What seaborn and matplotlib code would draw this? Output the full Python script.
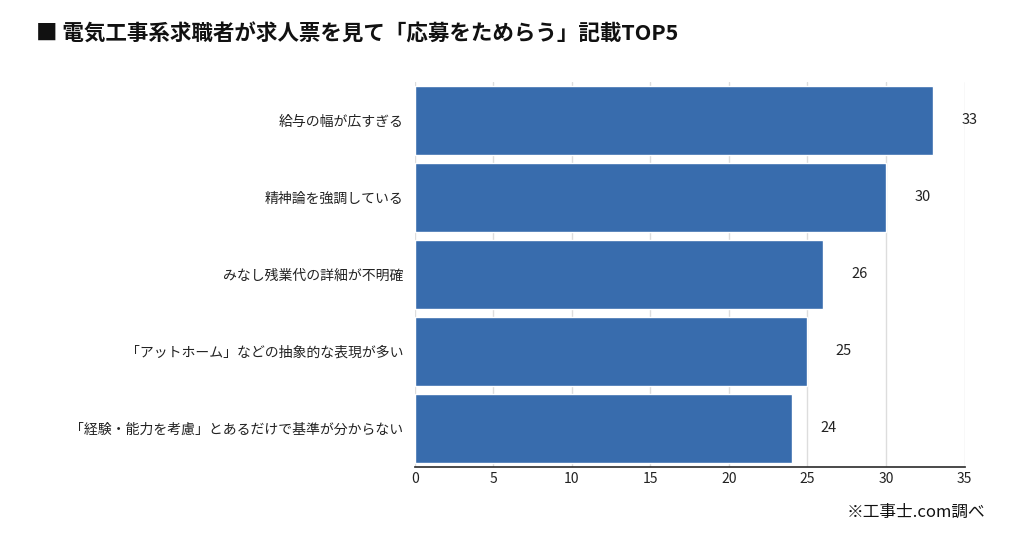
import matplotlib
matplotlib.use("Agg")
import matplotlib.pyplot as plt
import seaborn as sns
import pandas as pd

categories = ["給与の幅が広すぎる", "精神論を強調している", "みなし残業代の詳細が不明確",
              "「アットホーム」などの抽象的な表現が多い", "「経験・能力を考慮」とあるだけで基準が分からない"]
values = [33, 30, 26, 25, 24]
xticks = [0, 5, 10, 15, 20, 25, 30, 35]

sns.set_theme(style="white")
plt.rcParams['font.family'] = ['Noto Sans CJK JP', 'DejaVu Sans']

df = pd.DataFrame({"cat": categories, "val": values})
fig = plt.figure(figsize=(10.24, 5.38), dpi=100)
ax = fig.add_axes([0.405, 0.132, 0.537, 0.716])
sns.barplot(data=df, x="val", y="cat", color="#386cad", saturation=1, width=0.9, ax=ax, zorder=3)
ax.set_xlim(0, 35)
ax.set_xticks(xticks)
ax.grid(axis="x", color="#dddddd", linewidth=1, zorder=0)
ax.set_xlabel("")
ax.set_ylabel("")
for s in ["top", "right", "left"]:
    ax.spines[s].set_visible(False)
ax.spines["bottom"].set_color("#333333")
ax.tick_params(axis="y", length=0, labelsize=10, pad=8, labelcolor="#222222")
ax.tick_params(axis="x", length=0, labelsize=10, labelcolor="#222222")
for i, v in enumerate(values):
    ax.text(v + 1.8, i, str(v), va="center", ha="left", fontsize=10.5, color="#222222")
fig.text(0.035, 0.925, "■ 電気工事系求職者が求人票を見て「応募をためらう」記載TOP5",
         fontsize=15.5, fontweight="bold", color="#111111")
fig.text(0.962, 0.04, "※工事士.com調べ", fontsize=12, ha="right", color="#111111")
fig.savefig("out.png", dpi=100)
